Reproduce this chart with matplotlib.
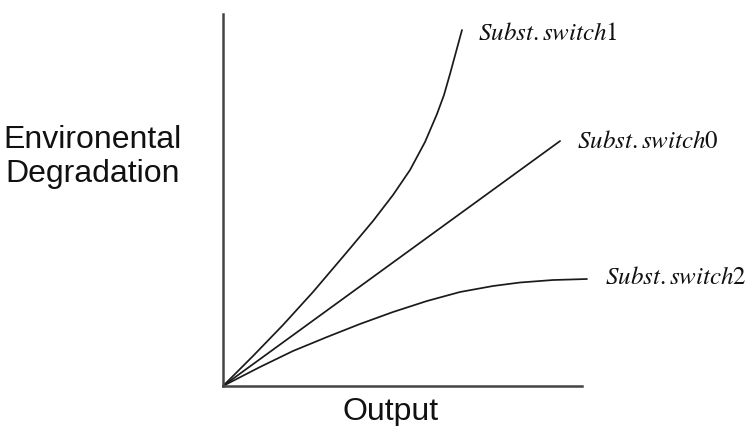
import matplotlib
matplotlib.use("Agg")
import matplotlib.pyplot as plt

plt.rcParams['mathtext.fontset'] = 'stix'

# Data (arbitrary units, axes span 0-100)
labels = [r'$Subst.switch1$', r'$Subst.switch0$', r'$Subst.switch2$']

s1_x = [0, 8.36, 16.71, 25.07, 34.54, 41.78, 47.35, 52.09, 56.27, 59.61, 61.56, 63.23, 64.90, 66.57]
s1_y = [0, 8.06, 16.40, 25.27, 36.02, 44.35, 51.34, 58.06, 65.59, 73.12, 78.23, 83.87, 89.78, 95.70]

s0_x = [0, 93.9]
s0_y = [0, 65.86]

s2_x = [0, 10.31, 19.50, 28.97, 38.16, 47.35, 56.82, 66.02, 75.21, 82.73, 91.92, 101.39]
s2_y = [0, 5.11, 9.41, 13.17, 16.67, 19.89, 22.85, 25.27, 26.88, 27.82, 28.49, 28.76]

label_x = [71.0, 98.6, 106.4]
label_y = [95.2, 66.1, 29.6]

W, H = 750, 427
fig = plt.figure(figsize=(W / 100, H / 100), dpi=100)
ax = fig.add_axes([223 / W, (H - 387) / H, 359 / W, 372 / H])
ax.set_xlim(0, 100)
ax.set_ylim(0, 100)

for xs, ys in [(s1_x, s1_y), (s0_x, s0_y), (s2_x, s2_y)]:
    ax.plot(xs, ys, color='#1a1a1a', lw=1.25, clip_on=False,
            solid_joinstyle='round', solid_capstyle='round', antialiased=True)

for t, lx, ly in zip(labels, label_x, label_y):
    ax.text(lx, ly, t, fontsize=18, color='#111111', ha='left', va='center')

for side in ['top', 'right']:
    ax.spines[side].set_visible(False)
for side in ['left', 'bottom']:
    ax.spines[side].set_color('#444444')
    ax.spines[side].set_linewidth(1.8)
ax.set_xticks([])
ax.set_yticks([])

fig.text(93 / W, 1 - 157 / H, 'Environental\nDegradation', fontsize=23,
         family='Liberation Sans', ha='center', va='center', linespacing=1.2,
         color='#111111')
fig.text(391 / W, 1 - 420 / H, 'Output', fontsize=23, family='Liberation Sans',
         ha='center', va='baseline', color='#111111')

fig.savefig('out.png', dpi=100)
